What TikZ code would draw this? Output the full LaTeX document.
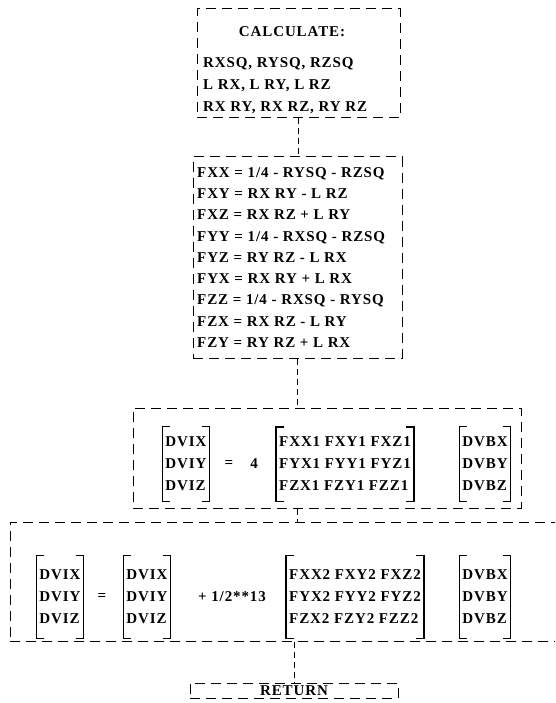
\documentclass[tikz,border=0pt]{standalone}
\usepackage{fontspec}
\setmainfont{Liberation Serif}[LetterSpace=6]
\usetikzlibrary{positioning}

\begin{document}
\begin{tikzpicture}[x=1pt,y=-1pt]
\tikzstyle{every node}=[inner sep=0pt, font=\bfseries\fontsize{15}{22}\selectfont]
\tikzstyle{box}=[draw, line width=1pt, dash pattern=on 10pt off 6pt]
\tikzstyle{mat}=[align=left, inner xsep=3pt, inner ysep=10pt]
\tikzstyle{link}=[line width=1pt, dash pattern=on 6pt off 4pt]
\clip (0,0) rectangle (555,703);
\useasboundingbox (0,0) rectangle (555,703);
% the five boxes
\draw (298.5,63.5) node (b1) [box, minimum width=203, minimum height=109] {};
\draw (297.5,257.5) node (b2) [box, minimum width=209, minimum height=201] {};
\draw (327,458) node (b3) [box, minimum width=388, minimum height=100] {};
\draw (290,581.5) node (b4) [box, minimum width=560, minimum height=119] {};
\draw (294,690.5) node (ret) [box, minimum width=208, minimum height=15] {RETURN};
% texts
\draw (292,32) node (calc) {CALCULATE:};
\draw (203,57) node (prod) [anchor=north west, align=left] {RXSQ, RYSQ, RZSQ\\L RX, L RY, L RZ\\RX RY, RX RZ, RY RZ};
\draw (197,167) node (fdef) [anchor=north west, align=left, font=\bfseries\fontsize{15}{21.3}\selectfont] {FXX = 1/4 - RYSQ - RZSQ\\FXY = RX RY - L RZ\\FXZ = RX RZ + L RY\\FYY = 1/4 - RXSQ - RZSQ\\FYZ = RY RZ - L RX\\FYX = RX RY + L RX\\FZZ = 1/4 - RXSQ - RYSQ\\FZX = RX RZ - L RY\\FZY = RY RZ + L RX};
% first product
\draw (186,464) node (m1) [mat] {DVIX\\DVIY\\DVIZ};
\draw (229,464) node (eq1) {=};
\draw (254,464) node (four) {4};
\draw (345,464) node (m2) [mat] {FXX1 FXY1 FXZ1\\FYX1 FYY1 FYZ1\\FZX1 FZY1 FZZ1};
\draw (485,464) node (m3) [mat] {DVBX\\DVBY\\DVBZ};
% second product
\draw (60,597) node (m4) [mat, inner ysep=14pt] {DVIX\\DVIY\\DVIZ};
\draw (102,597) node (eq2) {=};
\draw (147,597) node (m5) [mat, inner ysep=14pt] {DVIX\\DVIY\\DVIZ};
\draw (232,597) node (fac) {+ 1/2**13};
\draw (355,597) node (m6) [mat, inner ysep=14pt] {FXX2 FXY2 FXZ2\\FYX2 FYY2 FYZ2\\FZX2 FZY2 FZZ2};
\draw (485,597) node (m7) [mat, inner ysep=14pt] {DVBX\\DVBY\\DVBZ};
\foreach \m in {m1,m2,m3,m4,m5,m6,m7} {
  \draw[line width=1.3pt] ([xshift=8pt]\m.north west) -- (\m.north west) -- (\m.south west) -- ([xshift=8pt]\m.south west);
  \draw[line width=1.3pt] ([xshift=-8pt]\m.north east) -- (\m.north east) -- (\m.south east) -- ([xshift=-8pt]\m.south east);
}
% connectors
\draw[link] (b1.south) -- (b1.south |- b2.north);
\draw[link] (b2.south) -- (b2.south |- b3.north);
\draw[link] (b2.south |- b3.south) -- (b2.south |- b4.north);
\draw[link] (ret.north |- b4.south) -- (ret.north);
\end{tikzpicture}
\end{document}
